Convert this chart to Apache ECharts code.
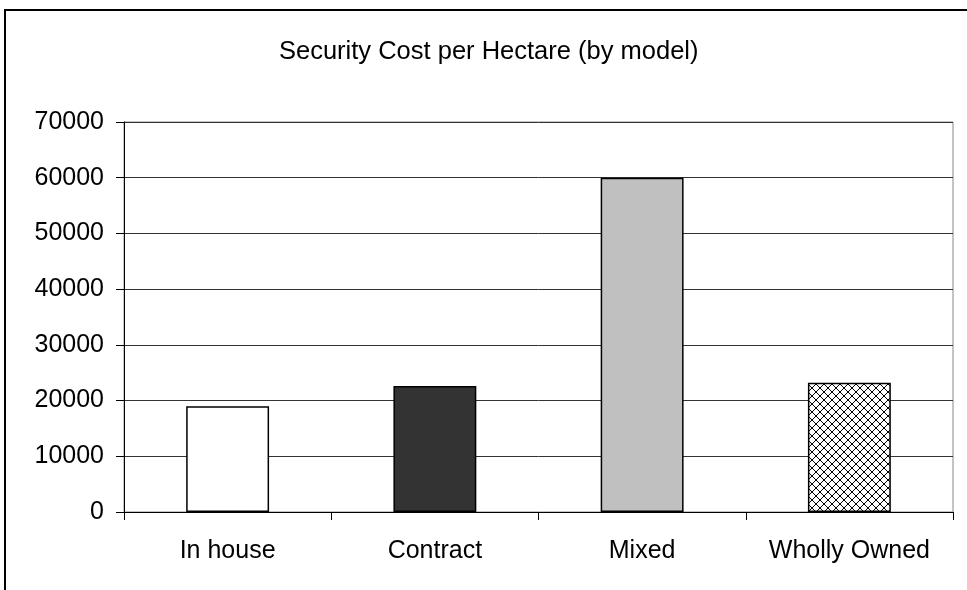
<!DOCTYPE html>
<html>
<head>
<meta charset="utf-8">
<script src="https://cdn.jsdelivr.net/npm/echarts@6/dist/echarts.min.js"></script>
<style>html,body{margin:0;padding:0;background:#fff}#c{width:967px;height:590px}</style>
</head>
<body>
<div id="c"></div>
<script>
var titleText = 'Security Cost per Hectare (by model)';
var categories = ['In house', 'Contract', 'Mixed', 'Wholly Owned'];
var values = [19000, 22600, 60000, 23200];

function hatch() {
  var c = document.createElement('canvas');
  c.width = 8; c.height = 8;
  var g = c.getContext('2d');
  g.fillStyle = '#fff'; g.fillRect(0, 0, 8, 8);
  g.strokeStyle = '#000'; g.lineWidth = 1;
  g.beginPath();
  g.moveTo(0, 0); g.lineTo(8, 8);
  g.moveTo(8, 0); g.lineTo(0, 8);
  g.stroke();
  return c;
}
var fills = ['#ffffff', '#333333', '#c0c0c0', {image: hatch(), repeat: 'repeat'}];

var chart = echarts.init(document.getElementById('c'));
chart.setOption({
  animation: false,
  backgroundColor: '#fff',
  title: {
    text: titleText, left: 274, top: 34,
    textStyle: {fontFamily: 'Liberation Sans', fontSize: 25.5, fontWeight: 'normal', color: '#000'}
  },
  graphic: [{
    type: 'rect', shape: {x: 5, y: 10, width: 1200, height: 1000},
    style: {fill: 'none', stroke: '#000', lineWidth: 2}, silent: true
  }],
  grid: {left: 124, right: 14, top: 122, bottom: 78, show: true, borderColor: '#888', borderWidth: 1},
  xAxis: {
    type: 'category', data: categories,
    axisLine: {lineStyle: {color: '#000'}},
    axisTick: {show: true, interval: 0, alignWithLabel: false, length: 8, lineStyle: {color: '#000'}},
    axisLabel: {interval: 0, fontFamily: 'Liberation Sans', fontSize: 25, color: '#000', margin: 27}
  },
  yAxis: {
    type: 'value', min: 0, max: 70000, interval: 10000,
    axisLine: {show: true, lineStyle: {color: '#000'}},
    axisTick: {show: true, length: 8, lineStyle: {color: '#000'}},
    axisLabel: {fontFamily: 'Liberation Sans', fontSize: 25, color: '#000', margin: 20,
      formatter: function (v) { return String(v); }},
    splitLine: {lineStyle: {color: '#333', width: 1}}
  },
  series: [{
    type: 'bar', barWidth: '40%',
    data: values.map(function (v, i) {
      return {value: v, itemStyle: {color: fills[i], borderColor: '#000', borderWidth: 1.5}};
    })
  }]
});
</script>
</body>
</html>
